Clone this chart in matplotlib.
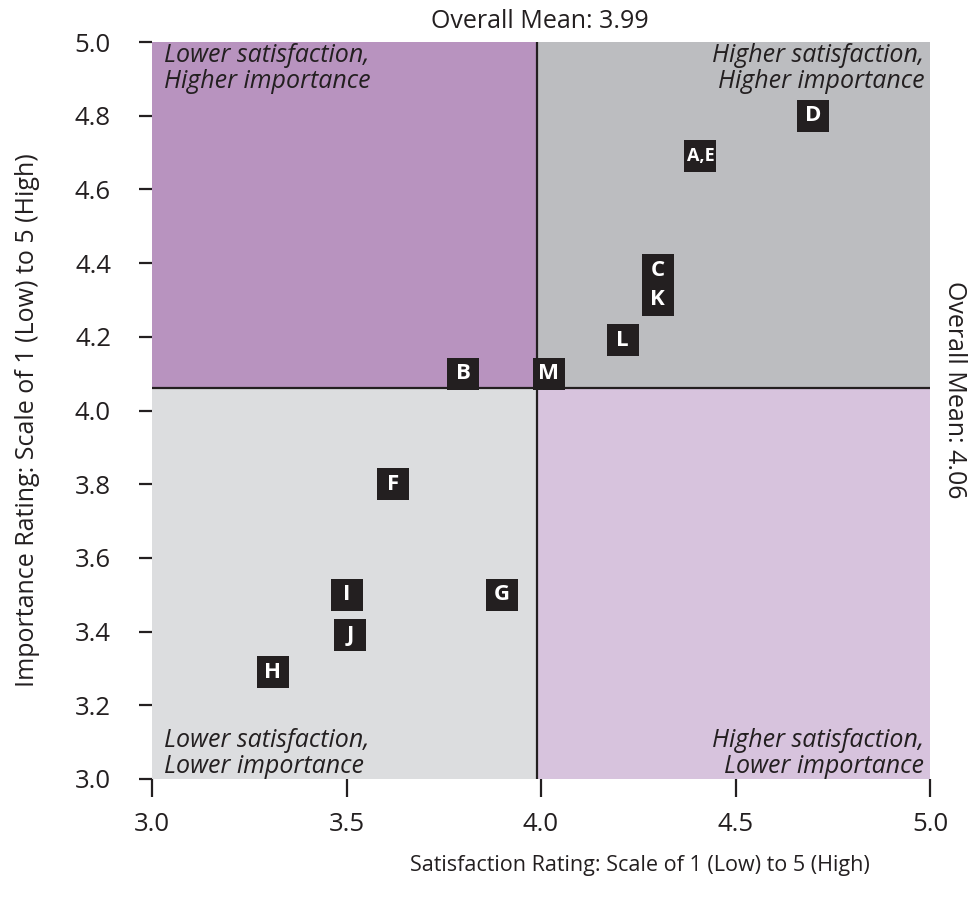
"""Importance vs satisfaction quadrant chart."""

import matplotlib

matplotlib.use("Agg")
import matplotlib.pyplot as plt
from matplotlib.patches import Rectangle

# data
LABELS = ["D", "A,E", "C", "K", "L", "B", "M", "F", "I", "G", "J", "H"]
SATISFACTION = [4.70, 4.41, 4.30, 4.30, 4.21, 3.80, 4.02, 3.62, 3.50, 3.90, 3.51, 3.31]
IMPORTANCE = [4.80, 4.69, 4.38, 4.30, 4.19, 4.10, 4.10, 3.80, 3.50, 3.50, 3.39, 3.29]
MEAN_SAT = 3.99
MEAN_IMP = 4.06
TICKS = [3.0, 3.2, 3.4, 3.6, 3.8, 4.0, 4.2, 4.4, 4.6, 4.8, 5.0]
XTICKS = [3.0, 3.5, 4.0, 4.5, 5.0]

COLORS = {
    "ul": "#B893BF",
    "ur": "#BCBDC0",
    "ll": "#DCDDDF",
    "lr": "#D7C3DD",
    "ink": "#231F20",
}

plt.rcParams["font.family"] = ["Open Sans", "DejaVu Sans"]

W, H = 978, 898
fig = plt.figure(figsize=(W / 100, H / 100), dpi=100)
ax = fig.add_axes([152 / W, 1 - 779 / H, 778 / W, 737 / H])
ax.set_xlim(3.0, 5.0)
ax.set_ylim(3.0, 5.0)

# quadrants
ax.add_patch(Rectangle((3.0, MEAN_IMP), MEAN_SAT - 3.0, 5.0 - MEAN_IMP, color=COLORS["ul"], lw=0, zorder=0))
ax.add_patch(Rectangle((MEAN_SAT, MEAN_IMP), 5.0 - MEAN_SAT, 5.0 - MEAN_IMP, color=COLORS["ur"], lw=0, zorder=0))
ax.add_patch(Rectangle((3.0, 3.0), MEAN_SAT - 3.0, MEAN_IMP - 3.0, color=COLORS["ll"], lw=0, zorder=0))
ax.add_patch(Rectangle((MEAN_SAT, 3.0), 5.0 - MEAN_SAT, MEAN_IMP - 3.0, color=COLORS["lr"], lw=0, zorder=0))
ax.axvline(MEAN_SAT, color=COLORS["ink"], lw=1.6, zorder=1)
ax.axhline(MEAN_IMP, color=COLORS["ink"], lw=1.6, zorder=1)

# markers with labels
ax.scatter(SATISFACTION, IMPORTANCE, marker="s", s=23 ** 2, color=COLORS["ink"], lw=0, zorder=3, clip_on=False)
for lab, x, y in zip(LABELS, SATISFACTION, IMPORTANCE):
    ax.text(x, y, lab, ha="center", va="center", color="white", fontweight="bold",
            fontsize=13 if "," in lab else 16, zorder=4)

# quadrant captions
qstyle = dict(fontsize=18, style="italic", color=COLORS["ink"], linespacing=1.05)
ax.text(3.032, 4.997, "Lower satisfaction,\nHigher importance", ha="left", va="top", **qstyle)
ax.text(4.985, 4.997, "Higher satisfaction,\nHigher importance", ha="right", va="top", multialignment="right", **qstyle)
ax.text(3.03, 3.0, "Lower satisfaction,\nLower importance", ha="left", va="bottom", **qstyle)
ax.text(4.985, 3.0, "Higher satisfaction,\nLower importance", ha="right", va="bottom", multialignment="right", **qstyle)

fig.text(540 / W, 1 - 22 / H, f"Overall Mean: {MEAN_SAT:.2f}", ha="center", va="center", fontsize=18, color=COLORS["ink"])
fig.text(955 / W, 1 - 390 / H, f"Overall Mean: {MEAN_IMP:.2f}", ha="center", va="center", rotation=-90,
         fontsize=18, color=COLORS["ink"])

for side in ax.spines.values():
    side.set_visible(False)
ax.set_xticks(XTICKS)
ax.set_yticks(TICKS)
ax.set_xticklabels([f"{t:.1f}" for t in XTICKS])
ax.set_yticklabels([f"{t:.1f}" for t in TICKS])
ax.tick_params(axis="x", direction="out", length=13, width=1.6, pad=11, labelsize=18.5, colors=COLORS["ink"])
ax.tick_params(axis="y", direction="out", length=9.5, width=1.6, pad=20, labelsize=18.5, colors=COLORS["ink"])

fig.text(640 / W, 1 - 866 / H, "Satisfaction Rating: Scale of 1 (Low) to 5 (High)", ha="center", va="center",
         fontsize=15.5, color=COLORS["ink"])
fig.text(28 / W, 1 - 420 / H, "Importance Rating: Scale of 1 (Low) to 5 (High)", ha="center", va="center",
         rotation=90, fontsize=18, color=COLORS["ink"])

fig.savefig("out.png", dpi=100, facecolor="white")
